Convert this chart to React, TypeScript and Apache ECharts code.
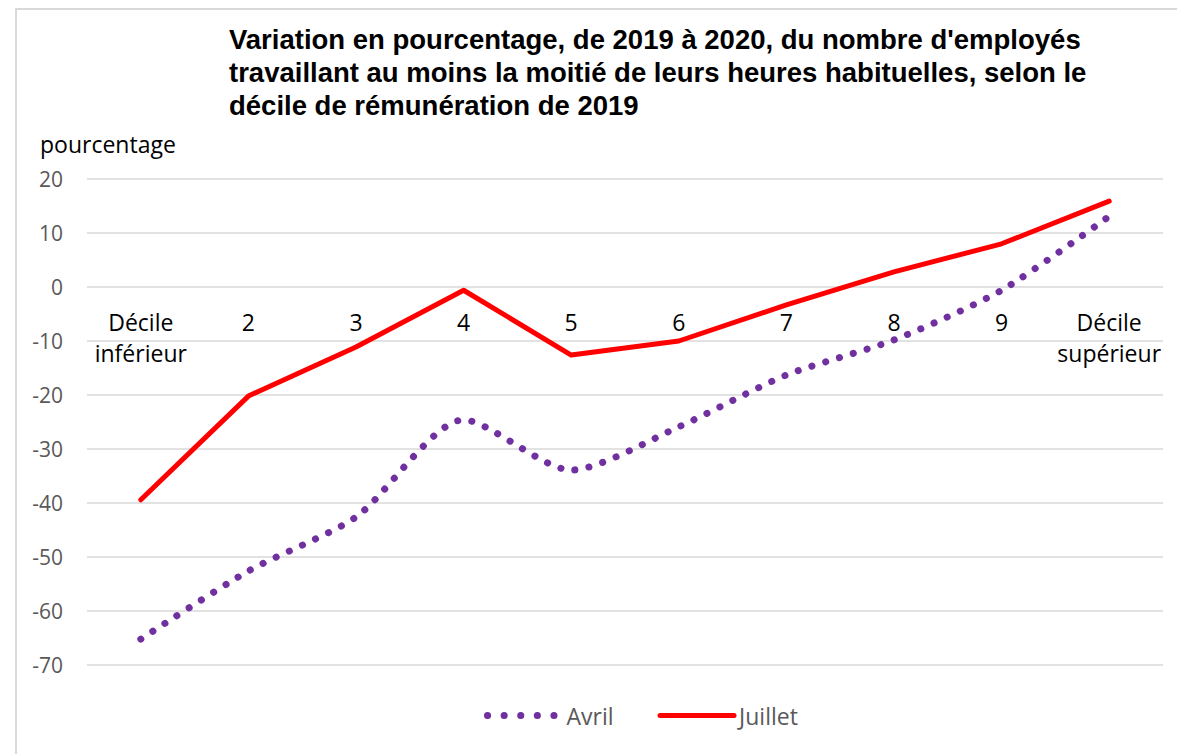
import React, { useEffect, useRef } from "react";
import * as echarts from "echarts";

const categories = ["Décile\ninférieur", "2", "3", "4", "5", "6", "7", "8", "9", "Décile\nsupérieur"];
const avril = [-65.2, -52.6, -42.6, -24.6, -33.9, -25.9, -16.3, -9.8, -0.6, 13.1];
const juillet = [-39.4, -20.2, -11.1, -0.6, -12.6, -10.0, -3.3, 2.8, 8.0, 15.9];
const titleText =
  "Variation en pourcentage, de 2019 à 2020, du nombre d'employés\ntravaillant au moins la moitié de leurs heures habituelles, selon le\ndécile de rémunération de 2019";

const FONT = "'Open Sans', sans-serif";
const TITLE_FONT = "'Liberation Sans', Arial, sans-serif";
const PURPLE = "#7030A0";
const RED = "#FF0000";
const avrilLine = { color: PURPLE, width: 7, type: [0.1, 14.3], cap: "round" };
const juilletLine = { color: RED, width: 5, cap: "round", join: "round" };

export default function App() {
  const ref = useRef<HTMLDivElement>(null);
  useEffect(() => {
    if (!ref.current) return;
    const chart = echarts.init(ref.current, undefined, { renderer: "svg" });
    chart.setOption({
      animation: false,
      textStyle: { fontFamily: FONT },
      title: {
        text: titleText,
        left: 224,
        top: 18,
        textStyle: { fontFamily: TITLE_FONT, fontSize: 27.5, fontWeight: "bold", color: "#000", lineHeight: 33 },
      },
      graphic: [
        {
          type: "rect",
          shape: { x: 16, y: 9, width: 1300, height: 900 },
          style: { fill: "none", stroke: "#d9d9d9", lineWidth: 2 },
          silent: true,
        },
      ],
      legend: {
        top: 699,
        left: 479,
        itemWidth: 74,
        itemHeight: 14,
        itemGap: 44,
        textStyle: { fontFamily: FONT, fontSize: 23, color: "#595959" },
        data: [
          { name: "Avril", itemStyle: { opacity: 0 }, lineStyle: { ...avrilLine, type: [0.1, 16.5] } },
          { name: "Juillet", itemStyle: { opacity: 0 }, lineStyle: { ...juilletLine } },
        ],
      },
      grid: { left: 87, right: 14, top: 179, bottom: 89 },
      xAxis: {
        type: "category",
        data: categories,
        boundaryGap: true,
        offset: -378,
        axisLine: { show: false },
        axisTick: { show: false },
        axisLabel: {
          color: "#000",
          fontSize: 23,
          lineHeight: 31,
          margin: 19,
          interval: 0,
          fontFamily: FONT,
        },
      },
      yAxis: {
        type: "value",
        min: -70,
        max: 20,
        interval: 10,
        name: "pourcentage",
        nameLocation: "end",
        nameGap: 24,
        nameTextStyle: { color: "#000", fontSize: 23, align: "left", padding: [0, 0, 0, -47], fontFamily: FONT },
        axisLine: { show: false },
        axisTick: { show: false },
        axisLabel: { color: "#595959", fontSize: 21, margin: 24, fontFamily: FONT },
        splitLine: { lineStyle: { color: "#d9d9d9", width: 1.5 } },
      },
      series: [
        {
          name: "Avril",
          type: "line",
          data: avril,
          smooth: 0.25,
          symbol: "none",
          lineStyle: avrilLine,
          itemStyle: { color: PURPLE },
        },
        {
          name: "Juillet",
          type: "line",
          data: juillet,
          symbol: "none",
          lineStyle: juilletLine,
          itemStyle: { color: RED },
        },
      ],
    });
    return () => chart.dispose();
  }, []);
  return (
    <div
      ref={ref}
      style={{ position: "absolute", left: 0, top: 0, width: 1177, height: 754, background: "#fff" }}
    />
  );
}
